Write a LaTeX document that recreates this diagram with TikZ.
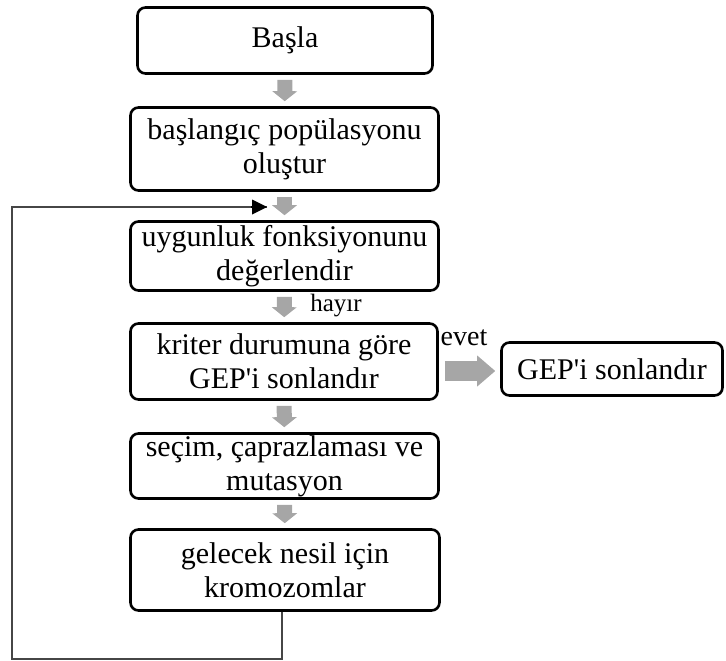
\documentclass[tikz,border=0pt]{standalone}
\usepackage{fontspec}
\setmainfont{Liberation Serif}
\usepackage{tikz}
\usetikzlibrary{arrows.meta,calc}

\definecolor{arrowgray}{RGB}{166,166,166}
\definecolor{loopgray}{RGB}{70,70,70}

\begin{document}
\begin{tikzpicture}[x=1pt, y=-1pt,
    stepbox/.style={draw, line width=2.6pt, rounded corners=8pt, align=center,
      inner sep=0pt, font=\fontsize{30}{34}\selectfont},
    grayarrow/.style={arrowgray, line width=15pt,
      -{Triangle[width=25pt,length=10pt,line width=0pt]},
      shorten <=5pt, shorten >=5pt},
    label/.style={inner sep=0pt, anchor=base}]
    \useasboundingbox (0,0) rectangle (726,661);

    \node[stepbox, minimum width=295pt, minimum height=66pt] (start) at (285,40.5) {Başla};
    \node[stepbox, minimum width=308pt, minimum height=83pt] (init) at (284.5,149) {başlangıç popülasyonu\\oluştur};
    \node[stepbox, minimum width=308pt, minimum height=69pt] (fitness) at (284.5,256) {uygunluk fonksiyonunu\\değerlendir};
    \node[stepbox, minimum width=307pt, minimum height=76pt] (check) at (284,361.5) {kriter durumuna göre\\GEP\textquotesingle i sonlandır};
    \node[stepbox, minimum width=308pt, minimum height=65pt] (select) at (284.5,466) {seçim, çaprazlaması ve\\mutasyon};
    \node[stepbox, minimum width=309pt, minimum height=81pt] (next) at (285,570) {gelecek nesil için\\kromozomlar};
    \node[stepbox, minimum width=221pt, minimum height=53pt] (stop) at (612,369) {GEP\textquotesingle i sonlandır};

    \draw[grayarrow] (start) -- (init);
    \draw[grayarrow] (init) -- (fitness);
    \draw[grayarrow] (fitness) -- (check);
    \draw[grayarrow] (check) -- (select);
    \draw[grayarrow] (select) -- (next);
    \draw[arrowgray, line width=20pt,
      -{Triangle[width=31pt,length=18pt,line width=0pt]},
      shorten <=6pt, shorten >=5pt] ([yshift=-2pt]check.east |- stop.west) -- ([yshift=-2pt]stop.west);

    \node[label, font=\fontsize{25}{28}\selectfont] (no) at (336,311) {hayır};
    \node[label, font=\fontsize{28}{32}\selectfont] (yes) at (464,345) {evet};

    % geri donus
    \coordinate (corner) at (12,659);
    \coordinate (loopin) at (267,207);
    \draw[loopgray, line width=1.2pt] ([xshift=-3pt]next.south) |- (corner) |- (loopin);
    \draw[-{Triangle[width=15pt,length=15pt,line width=0pt]}, black, line width=1.2pt]
      ([xshift=-16pt]loopin) -- (loopin);
\end{tikzpicture}
\end{document}
